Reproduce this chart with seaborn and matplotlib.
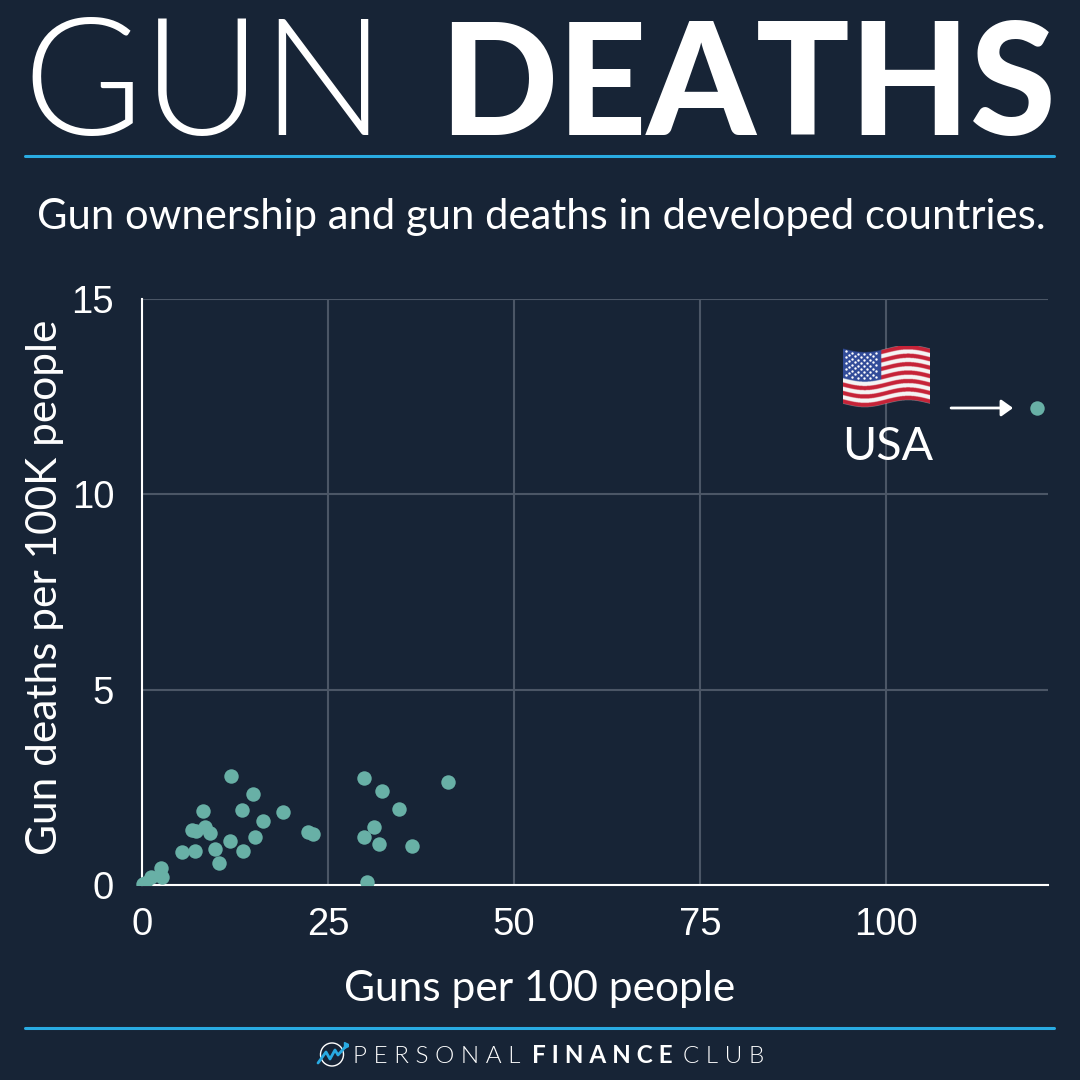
import numpy as np
import pandas as pd
import matplotlib
matplotlib.use("Agg")
import matplotlib.pyplot as plt
import seaborn as sns
from matplotlib.transforms import Bbox, TransformedBbox

# values
guns = [12.0, 14.87, 8.2, 13.44, 18.9, 16.22, 6.76, 7.26, 8.46, 9.14, 11.83, 15.18,
        9.81, 13.62, 5.37, 7.12, 10.3, 22.35, 23.03, 29.88, 32.3, 34.58, 31.18, 29.88,
        31.9, 36.29, 41.08, 30.19, 2.51, 2.73, 1.17, 0.4, 0.13, 120.33]
deaths = [2.79, 2.33, 1.89, 1.91, 1.86, 1.64, 1.41, 1.38, 1.48, 1.33, 1.13, 1.23,
          0.91, 0.88, 0.85, 0.87, 0.57, 1.36, 1.31, 2.75, 2.41, 1.94, 1.48, 1.24,
          1.04, 1.0, 2.64, 0.07, 0.44, 0.2, 0.21, 0.04, 0.03, 12.21]
x_ticks = [0, 25, 50, 75, 100]
y_ticks = [0, 5, 10, 15]

BG = "#172436"
BLUE = "#29ABE2"
GRID = "#4B5666"
DOT = "#68B0A6"
W = 1080

sns.set_theme(style="white")
plt.rcParams["font.family"] = ["Lato", "DejaVu Sans"]

fig = plt.figure(figsize=(10.8, 10.8), dpi=100, facecolor=BG)
ax = fig.add_axes([142 / W, 1 - 885 / W, (1048 - 142) / W, (885 - 299) / W], facecolor=BG)

df = pd.DataFrame({"guns": guns, "deaths": deaths})
sns.scatterplot(data=df, x="guns", y="deaths", ax=ax, color=DOT, s=108, linewidth=0, zorder=3)
ax.collections[0].set_clip_box(TransformedBbox(Bbox([[-3, 0], [125, 16]]), ax.transData))

ax.set_xlim(0, 121.8)
ax.set_ylim(0, 15)
ax.set_xticks(x_ticks)
ax.set_yticks(y_ticks)
ax.grid(True, color=GRID, linewidth=1.5)
ax.set_axisbelow(True)
ax.tick_params(axis="x", length=0, pad=15.5, labelcolor="white", labelsize=27.5)
ax.tick_params(axis="y", length=4, width=1.5, color=GRID, pad=16, labelcolor="white", labelsize=27.5)
ax.yaxis.get_major_ticks()[0].tick1line.set_color("white")
for lab in ax.get_xticklabels() + ax.get_yticklabels():
    lab.set_family("Liberation Sans")
for side in ["top", "right"]:
    ax.spines[side].set_visible(False)
for side in ["left", "bottom"]:
    ax.spines[side].set_color("white")
    ax.spines[side].set_linewidth(1.5)
ax.set_xlabel("")
ax.set_ylabel("")


def ftext(x, y, s, **kw):
    # positions in pixels from the top left
    return fig.text(x / W, 1 - y / W, s, color="white", **kw)


ftext(22, 135, "GUN", fontsize=118, fontweight=300, ha="left", va="baseline")
ftext(439, 135, "DEATHS", fontsize=112, fontweight="black", ha="left", va="baseline")
ftext(541, 229, "Gun ownership and gun deaths in developed countries.", fontsize=30.1, ha="center", va="baseline")
ftext(540, 1001, "Guns per 100 people", fontsize=30.6, ha="center", va="baseline")
ftext(45, 587, "Gun deaths per 100K people", fontsize=30.5, rotation=90, ha="center", va="center")
ftext(888, 460, "USA", fontsize=33.5, ha="center", va="baseline")

for yy in [155.5, 1028]:
    fig.add_artist(plt.Line2D([25 / W, 1054 / W], [1 - yy / W] * 2, color=BLUE, linewidth=2.2))

# arrow to the USA point
ax.annotate("", xy=(120.33 - 24 / 7.44, 12.21), xytext=(120.33 - 86 / 7.44, 12.21),
            arrowprops=dict(arrowstyle="-|>,head_length=0.35,head_width=0.25", color="white", lw=2,
                            mutation_scale=20, shrinkA=0, shrinkB=0))

# flag, the emoji font is not there
flag_ax = fig.add_axes([843 / W, 1 - 410 / W, 87 / W, 64 / W])
flag_ax.axis("off")
h, w = 256, 348
img = np.zeros((h, w, 4))
yy, xx = np.mgrid[0:h, 0:w]
u = xx / (w - 1)
wave = 0.055 * np.sin(2 * np.pi * u)
v = (yy / (h - 1) - 0.04 - wave) / 0.86
stripe = np.floor(v * 13).astype(int)
img[..., :3] = np.where((stripe % 2 == 0)[..., None], [0.78, 0.14, 0.22], [0.96, 0.96, 0.96])
canton = (u < 0.44) & (v < 7 / 13)
img[canton, :3] = [0.2, 0.3, 0.6]
img[..., 3] = ((v >= 0) & (v <= 1)).astype(float)
flag_ax.imshow(img, aspect="auto", extent=(0, 1, 0, 1), interpolation="bilinear")
sx, sy = [], []
for r in range(9):
    for c in range(6 if r % 2 == 0 else 5):
        su = 0.03 + 0.07 * c + (0 if r % 2 == 0 else 0.035)
        sv = 0.035 + 0.055 * r
        sx.append(su)
        sy.append(1 - (sv * 0.86 + 0.04 + 0.055 * np.sin(2 * np.pi * su)))
flag_ax.scatter(sx, sy, s=3, color="white", linewidth=0)
flag_ax.set_xlim(0, 1)
flag_ax.set_ylim(0, 1)

# footer logo
logo = fig.add_axes([316 / W, 1 - 1068 / W, 32 / W, 28 / W])
logo.axis("off")
logo.set_xlim(316, 348)
logo.set_ylim(1068, 1040)
logo.add_patch(plt.Circle((332, 1054.5), 11.5, fill=False, edgecolor="white", linewidth=1))
logo.plot([318, 326, 330, 335, 338, 347], [1063, 1052, 1059, 1050, 1055, 1045], color=BLUE, linewidth=2)
logo.plot([347], [1045], marker=">", color=BLUE, markersize=4)

ftext(353, 1063, "P E R S O N A L", fontsize=17.5, fontweight=300, ha="left", va="baseline")
ftext(532, 1063, "F I N A N C E", fontsize=17.5, fontweight="bold", ha="left", va="baseline")
ftext(683, 1063, "C L U B", fontsize=17.5, fontweight=300, ha="left", va="baseline")

fig.savefig("out.png", dpi=100, facecolor=BG)
